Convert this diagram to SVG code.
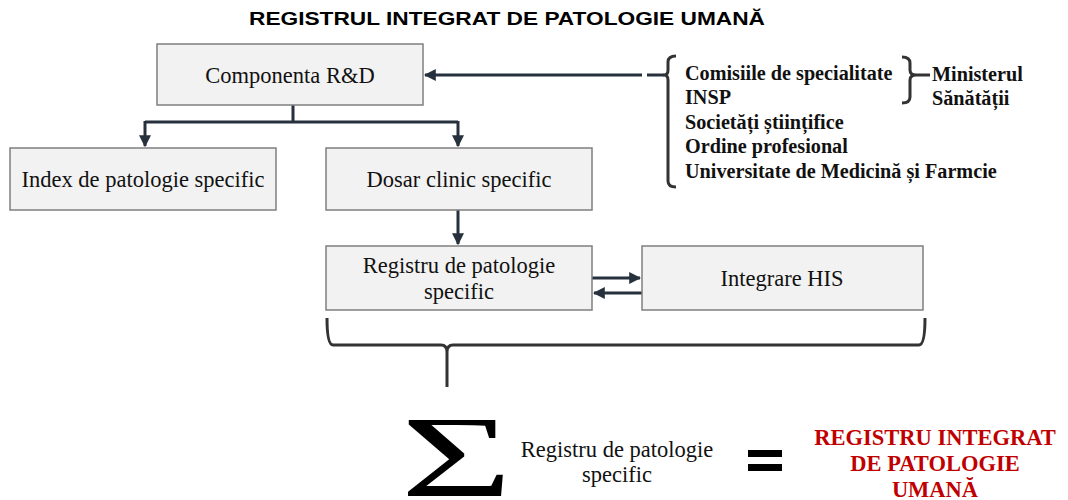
<svg xmlns="http://www.w3.org/2000/svg" width="1068" height="500" viewBox="0 0 1068 500">
<defs>
<style>
.box{fill:#f2f2f2;stroke:#7f7f7f;stroke-width:1.5}
.nt{font-family:"Liberation Serif","Times New Roman",serif;font-size:22.5px;fill:#111;text-anchor:middle}
.bt{font-family:"Liberation Serif","Times New Roman",serif;font-size:20.2px;font-weight:bold;fill:#111}
.con{fill:none;stroke:#27313d;stroke-width:3}
.br{fill:none;stroke:#333;stroke-width:3;stroke-linejoin:round}
.red{font-family:"Liberation Serif","Times New Roman",serif;font-size:22.5px;font-weight:bold;fill:#c00000;text-anchor:middle}
</style>
<marker id="ah" viewBox="0 0 10 10" refX="9" refY="5" markerWidth="4" markerHeight="4" orient="auto" markerUnits="strokeWidth">
<path d="M0,0 L10,5 L0,10 z" fill="#27313d"/>
</marker>
</defs>
<rect width="1068" height="500" fill="#fff"/>
<text x="507" y="25" font-family="'Liberation Sans',Arial,sans-serif" font-size="18" font-weight="bold" text-anchor="middle" textLength="516" lengthAdjust="spacingAndGlyphs">REGISTRUL INTEGRAT DE PATOLOGIE UMANĂ</text>

<g id="connectors">
<path class="con" d="M293,105 V122 M145,122 H458" />
<path class="con" d="M145,121 V146" marker-end="url(#ah)"/>
<path class="con" d="M458,121 V146" marker-end="url(#ah)"/>
<path class="con" d="M458,210 V244" marker-end="url(#ah)"/>
<path class="con" d="M592,278 H640" marker-end="url(#ah)"/>
<path class="con" d="M642,293 H594" marker-end="url(#ah)"/>
<path class="con" d="M642,75 H425" marker-end="url(#ah)"/>
<path class="con" d="M647,75 H664"/>
</g>

<g id="n-componenta"><rect class="box" x="157" y="44" width="266" height="61"/><text class="nt" x="290" y="83">Componenta R&amp;D</text></g>
<g id="n-index"><rect class="box" x="10" y="148" width="266" height="62"/><text class="nt" x="143" y="187">Index de patologie specific</text></g>
<g id="n-dosar"><rect class="box" x="326" y="148" width="266" height="62"/><text class="nt" x="459" y="187">Dosar clinic specific</text></g>
<g id="n-registru"><rect class="box" x="326" y="246" width="266" height="64"/><text class="nt" x="459" y="273">Registru de patologie</text><text class="nt" x="459" y="299">specific</text></g>
<g id="n-his"><rect class="box" x="642" y="246" width="281" height="64"/><text class="nt" x="782" y="286">Integrare HIS</text></g>

<g id="n-sources">
<path class="br" d="M676,56 Q668,56 668,62 V70 Q668,75 664,75 Q668,75 668,80 V181 Q668,187 676,187"/>
<text class="bt" x="685" y="80">Comisiile de specialitate</text>
<text class="bt" x="685" y="104">INSP</text>
<text class="bt" x="685" y="129">Societăți științifice</text>
<text class="bt" x="685" y="153">Ordine profesional</text>
<text class="bt" x="685" y="178">Universitate de Medicină și Farmcie</text>
<path class="br" d="M902,57 Q910,57 910,63 V70 Q910,75 916,75 H930 M916,75 Q910,75 910,80 V97 Q910,103 902,103"/>
<text class="bt" x="932" y="81">Ministerul</text>
<text class="bt" x="932" y="105">Sănătății</text>
</g>

<g id="brace">
<path class="br" d="M327,318 Q327,345 333,345 H441 Q447,345 447,352 V387 M447,387 V352 Q447,345 453,345 H919 Q925,345 925,318"/>
</g>

<g id="formula">
<text transform="translate(456.5,496) scale(1.66,1)" x="0" y="0" font-family="'Liberation Serif','Times New Roman',serif" font-size="116" text-anchor="middle" fill="#000">Σ</text>
<text class="nt" x="617" y="457" font-size="21.6px">Registru de patologie</text>
<text class="nt" x="617" y="482" font-size="21.6px">specific</text>
<rect x="748" y="450" width="34" height="7" fill="#000"/>
<rect x="748" y="464" width="34" height="7" fill="#000"/>
<text class="red" x="935" y="445">REGISTRU INTEGRAT</text>
<text class="red" x="935" y="471">DE PATOLOGIE</text>
<text class="red" x="935" y="497">UMANĂ</text>
</g>
</svg>
